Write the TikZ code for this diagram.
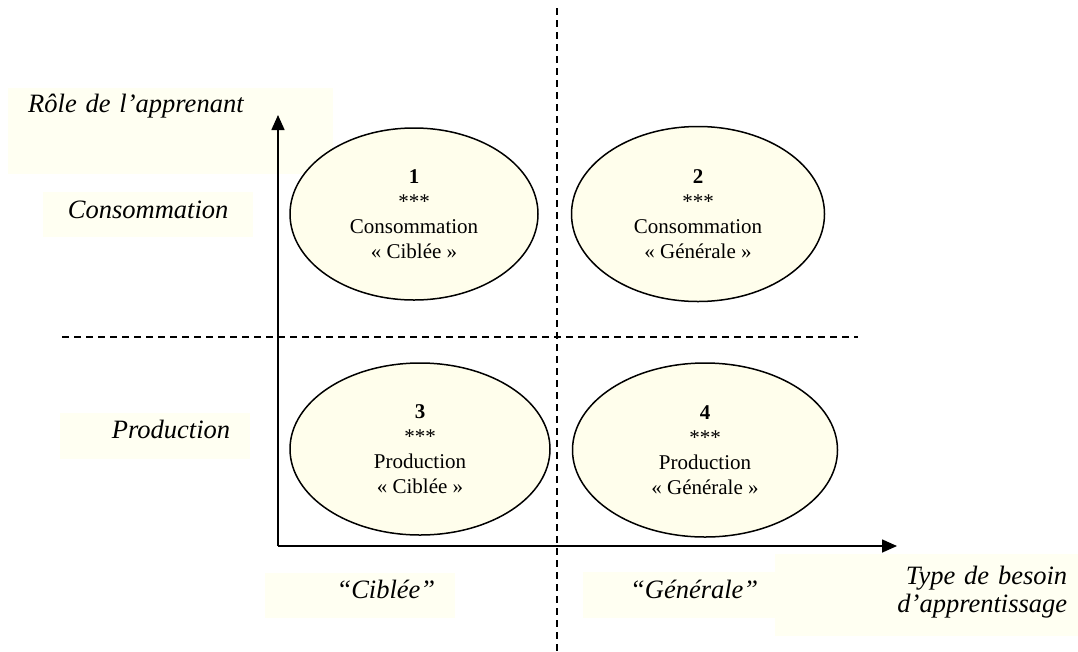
\documentclass[tikz,border=0pt]{standalone}
\usepackage{fontspec}
\setmainfont{Liberation Serif}
\usetikzlibrary{shapes.geometric,arrows.meta}
\definecolor{paleyellow}{RGB}{255,255,242}
\definecolor{cellyellow}{RGB}{255,254,236}
\newcommand{\celltext}{\fontsize{21}{25}\selectfont}
\newcommand{\axistext}{\fontsize{26.5}{28}\selectfont\itshape}

\begin{document}
\begin{tikzpicture}[x=1pt,y=-1pt,
    quadrant/.style={ellipse,draw,line width=1.5pt,fill=cellyellow,inner sep=0pt,align=center,font=\celltext},
    axislbl/.style={fill=paleyellow,inner sep=0pt,anchor=north west,font=\axistext},
    separator/.style={line width=1.6pt,dash pattern=on 7pt off 5pt},
    axis/.style={line width=1.6pt,-{Triangle[length=15pt,width=13pt]}}]
    \useasboundingbox (0,0) rectangle (1078,651);
    %% labels of the axes
    \node[axislbl,text width=285pt,inner xsep=20pt,align=left,text height=24pt,text depth=62pt] (role) at (8,88) {Rôle de l’apprenant};
    \node[axislbl,text width=210pt,align=center,text height=26pt,text depth=19pt] (conso) at (43,192) {Consommation};
    \node[axislbl,text width=150pt,inner xsep=20pt,align=right,text height=25pt,text depth=21pt] (prod) at (60,413) {Production};
    \node[axislbl,text width=150pt,inner xsep=20pt,align=right,text height=25pt,text depth=20pt] (ciblee) at (265,573) {“Ciblée”};
    \node[axislbl,text width=158pt,inner xsep=17pt,align=right,text height=26pt,text depth=20pt] (generale) at (583,572) {“Générale”};
    \node[axislbl,text width=281pt,inner xsep=11pt,align=right,text height=30pt,text depth=52pt] (besoin) at (775,554) {Type de besoin\\d’apprentissage};
    %% separators
    \draw[separator] (557,8) -- (557,651);
    \draw[separator] (62,337) -- (858,337);
    %% axes
    \coordinate (origin) at (278,546);
    \coordinate (ytip) at (278,115);
    \coordinate (xtip) at (897,546);
    \draw[axis] (origin) -- (ytip);
    \draw[axis] (origin) -- (xtip);
    %% quadrants
    \node[quadrant,minimum width=248pt,minimum height=172pt] (q1) at (414,214) {\textbf{1}\\***\\Consommation\\« Ciblée »};
    \node[quadrant,minimum width=253pt,minimum height=175pt] (q2) at (698,214) {\textbf{2}\\***\\Consommation\\« Générale »};
    \node[quadrant,minimum width=260pt,minimum height=172pt] (q3) at (420,449) {\textbf{3}\\***\\Production\\« Ciblée »};
    \node[quadrant,minimum width=265pt,minimum height=174pt] (q4) at (705,450) {\textbf{4}\\***\\Production\\« Générale »};
\end{tikzpicture}
\end{document}
